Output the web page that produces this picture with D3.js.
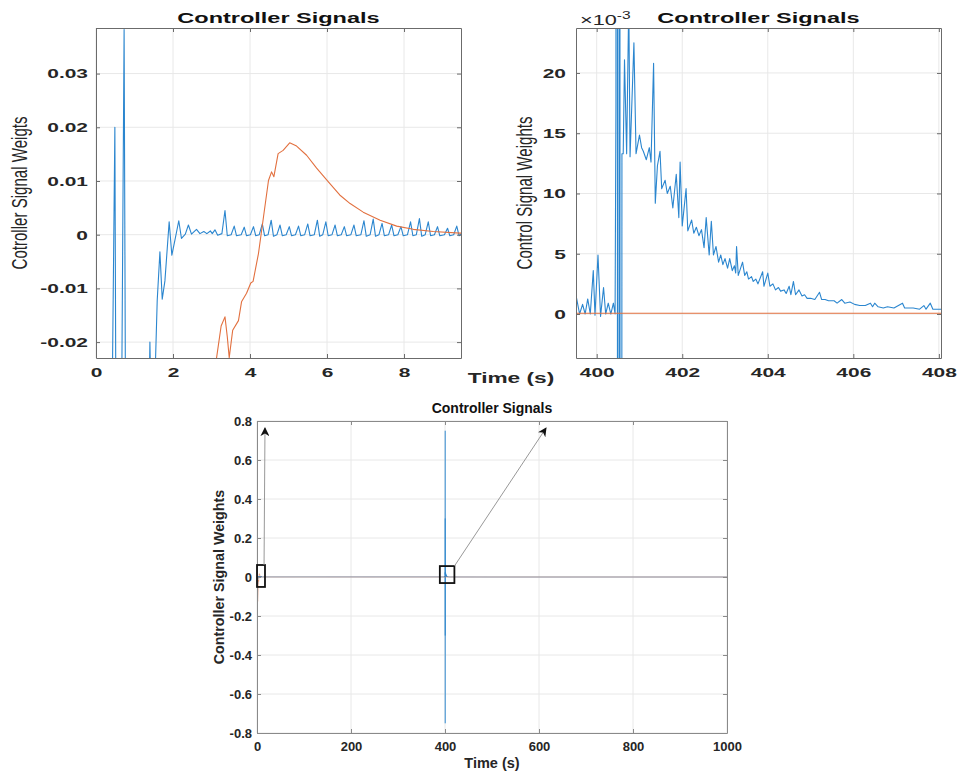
<!DOCTYPE html>
<meta charset="utf-8">
<style>
  body { margin: 0; background: #fff; }
  svg { display: block; }
</style>
<svg id="fig"></svg>
<script src="https://d3js.org/d3.v7.min.js"></script>
<script>

// blue signal, start-up transient and the small periodic ripple (t, value)
var blueEarly = [
  [0, -0.75], [0.38, -0.06], [0.49, 0.020], [0.53, -0.06], [0.64, -0.06], [0.73, 0.0382],
  [0.79, -0.08], [1.0, -0.15], [1.36, -0.04], [1.40, -0.020], [1.44, -0.035], [1.52, -0.03],
  [1.59, -0.0122], [1.66, -0.0032], [1.72, -0.012], [1.79, -0.0086], [1.90, 0.0024],
  [1.97, -0.0038], [2.05, -0.001], [2.15, 0.0026], [2.22, -0.0007], [2.32, 0.0001],
  [2.40, 0.0018], [2.48, 0.0001], [2.61, 0.0010], [2.70, 0.0002], [2.80, 0.0006],
  [2.88, 0.0002], [2.97, 0.0007], [3.02, 0.0002], [3.09, 0.0009], [3.16, -0.0001],
  [3.27, 0.0002], [3.35, 0.0045], [3.41, -0.0002],
  [3.51, 0], [3.59, 0.0016], [3.65, -0.0002],
  [3.77, 0], [3.85, 0.0014], [3.91, -0.0002],
  [4.01, 0], [4.09, 0.0015], [4.15, -0.0002],
  [4.24, 0], [4.32, 0.0020], [4.38, -0.0002],
  [4.47, 0], [4.55, 0.0027], [4.61, -0.0003],
  [4.70, 0], [4.78, 0.0018], [4.84, -0.0002],
  [4.94, 0], [5.02, 0.0015], [5.08, -0.0002],
  [5.18, 0], [5.26, 0.0016], [5.32, -0.0002],
  [5.42, 0], [5.50, 0.0020], [5.56, -0.0002],
  [5.67, 0], [5.75, 0.0027], [5.81, -0.0003],
  [5.89, 0], [5.97, 0.0024], [6.03, -0.0002],
  [6.13, 0], [6.21, 0.0018], [6.27, -0.0002],
  [6.37, 0], [6.45, 0.0015], [6.51, -0.0002],
  [6.62, 0], [6.70, 0.0018], [6.76, -0.0002],
  [6.88, 0], [6.96, 0.0026], [7.02, -0.0003],
  [7.12, 0], [7.20, 0.0029], [7.26, -0.0003],
  [7.35, 0], [7.43, 0.0021], [7.49, -0.0002],
  [7.60, 0], [7.68, 0.0018], [7.74, -0.0002],
  [7.84, 0], [7.92, 0.0015], [7.98, -0.0002],
  [8.09, 0], [8.17, 0.0024], [8.23, -0.0002],
  [8.32, 0], [8.40, 0.0030], [8.46, -0.0003],
  [8.55, 0], [8.63, 0.0024], [8.69, -0.0002],
  [8.79, 0], [8.87, 0.0015], [8.93, -0.0002],
  [9.05, 0], [9.13, 0.0012], [9.19, -0.0002],
  [9.29, 0], [9.37, 0.0016], [9.43, -0.0002], [9.50, 0.0002]
];

// blue signal between the two events
var blueMid = [
  [12, 0.0005], [100, 0.0006], [200, 0.0005], [300, 0.0006], [399.4, 0.0005]
];

// blue signal around the second event at t = 400 s
var blueLate = [
  [399.53, 0.0013], [399.60, 0], [399.67, 0.0008], [399.73, 0], [399.79, 0.00125],
  [399.85, 0], [399.92, 0.0036], [399.96, -0.0001], [400.03, 0.0049], [400.09, -0.0002],
  [400.16, 0.0022], [400.21, 0], [400.27, 0.0009], [400.33, 0], [400.39, 0.0009],
  [400.43, 0], [400.45, 0.0175], [400.47, 0.75], [400.50, -0.75], [400.53, 0.3],
  [400.56, -0.3], [400.59, 0.0133], [400.62, 0.0133], [400.65, 0.0211], [400.70, 0.0133],
  [400.75, 0.026], [400.78, 0.01305], [400.87, 0.0225], [400.92, 0.0133], [401.00, 0.01485],
  [401.05, 0.0138], [401.09, 0.0135], [401.16, 0.0128], [401.23, 0.0138], [401.27, 0.0126],
  [401.33, 0.0208], [401.37, 0.0092], [401.42, 0.0123], [401.48, 0.0135], [401.52, 0.0104],
  [401.60, 0.0111], [401.65, 0.0100], [401.72, 0.0106], [401.78, 0.0088], [401.86, 0.0116],
  [401.92, 0.0080], [401.95, 0.0126], [402.00, 0.0073], [402.09, 0.0104], [402.13, 0.0069],
  [402.22, 0.0078], [402.27, 0.0067], [402.33, 0.0072], [402.39, 0.0065], [402.45, 0.0070],
  [402.51, 0.0055], [402.56, 0.0080], [402.63, 0.0049], [402.68, 0.0077], [402.73, 0.0049],
  [402.79, 0.0056], [402.85, 0.0043], [402.90, 0.0049], [402.95, 0.0041], [403.00, 0.0046],
  [403.06, 0.0038], [403.11, 0.0046], [403.17, 0.0036], [403.22, 0.0040], [403.25, 0.0034],
  [403.27, 0.0056], [403.31, 0.0032], [403.41, 0.0043], [403.46, 0.0032], [403.51, 0.0035],
  [403.55, 0.0029], [403.62, 0.0031], [403.66, 0.0027], [403.72, 0.0029], [403.77, 0.0025],
  [403.88, 0.0035], [403.91, 0.0023], [404.00, 0.0034], [404.05, 0.0023], [404.12, 0.0025],
  [404.18, 0.0020], [404.25, 0.0022], [404.30, 0.0019], [404.38, 0.0020], [404.43, 0.0017],
  [404.50, 0.0023], [404.54, 0.0016], [404.60, 0.0027], [404.65, 0.0016], [404.73, 0.0020],
  [404.80, 0.0015], [404.86, 0.0016], [404.92, 0.0013], [405.00, 0.0013], [405.10, 0.0012],
  [405.21, 0.0018], [405.26, 0.0012], [405.34, 0.0012], [405.42, 0.0011], [405.55, 0.0011],
  [405.62, 0.0009], [405.73, 0.0012], [405.80, 0.0009], [405.92, 0.0010], [406.03, 0.0008],
  [406.15, 0.0007], [406.28, 0.0007], [406.40, 0.0009], [406.45, 0.0006], [406.50, 0.0009],
  [406.58, 0.0006], [406.70, 0.0005], [406.80, 0.0006], [406.95, 0.0005], [407.15, 0.0009],
  [407.20, 0.0005], [407.40, 0.0005], [407.55, 0.0004], [407.65, 0.0007], [407.70, 0.0004],
  [407.80, 0.0009], [407.86, 0.0004], [408.05, 0.0004], [410, 0.0003], [500, 0], [1000, 0]
];

// orange signal (t, value)
var orangeSignal = [
  [0, -0.05], [0.5, -0.1], [1.5, -0.125], [2.5, -0.06], [3.0, -0.03], [3.13, -0.023],
  [3.25, -0.017], [3.35, -0.0153], [3.41, -0.019], [3.46, -0.0229], [3.55, -0.0178],
  [3.70, -0.016], [3.78, -0.0125], [3.91, -0.0109], [4.02, -0.009], [4.08, -0.0087],
  [4.22, -0.0035], [4.35, 0.0033], [4.48, 0.0101], [4.56, 0.0117], [4.62, 0.0108],
  [4.73, 0.0151], [4.86, 0.0157], [5.03, 0.0171], [5.21, 0.0165], [5.47, 0.0148],
  [5.73, 0.0124], [6.03, 0.0099], [6.33, 0.0074], [6.60, 0.0058], [6.94, 0.0042],
  [7.38, 0.0027], [7.81, 0.0016], [8.24, 0.0010], [8.76, 0.0006], [9.45, 0.0003],
  [12, 0.0001], [1000, 0]
];

var blueSignal = blueEarly.concat(blueMid, blueLate);

// tick values
var leftXTicks = [0, 2, 4, 6, 8];
var leftYTicks = [-0.02, -0.01, 0, 0.01, 0.02, 0.03];
var rightXTicks = [400, 402, 404, 406, 408];
var rightYTicks = [0, 0.005, 0.01, 0.015, 0.02];
var mainXTicks = [0, 200, 400, 600, 800, 1000];
var mainYTicks = [-0.8, -0.6, -0.4, -0.2, 0, 0.2, 0.4, 0.6, 0.8];

// zoom boxes and arrows on the overview (data units)
var zoomBoxes = [
  { x0: 0, x1: 17, y0: -0.051, y1: 0.0615 },
  { x0: 389, x1: 420, y0: -0.031, y1: 0.056 }
];
var zoomArrows = [
  { from: [15, 0.0615], to: [17, 0.764] },
  { from: [420, 0.056], to: [615, 0.764] }
];

var W = 958, H = 776;
var FONT = "'Liberation Sans', Arial, Helvetica, sans-serif";
var BLUE = "#2b86cf", ORANGE = "#e2703f";

var svg = d3.select("#fig").attr("width", W).attr("height", H);

svg.append("defs").append("marker")
    .attr("id", "head")
    .attr("viewBox", "0 0 10 10")
    .attr("refX", 9).attr("refY", 5)
    .attr("markerWidth", 9).attr("markerHeight", 9)
    .attr("markerUnits", "userSpaceOnUse")
    .attr("orient", "auto")
  .append("path")
    .attr("d", "M0,0 L10,5 L0,10 L3,5 z")
    .attr("fill", "#111");

// widen text horizontally, the top plots use a stretched font
function stretch(sel, k) {
  sel.each(function() {
    var w = this.getComputedTextLength();
    d3.select(this).attr("textLength", w * k).attr("lengthAdjust", "spacingAndGlyphs");
  });
}

function tidy(fmt) { return function(d) { return String(+d.toFixed(fmt)); }; }

function panel(p) {
  var x = d3.scaleLinear().domain(p.xDomain).range([p.left, p.right]);
  var y = d3.scaleLinear().domain(p.yDomain).range([p.bottom, p.top]);
  var g = svg.append("g");

  g.append("rect")
      .attr("x", p.left).attr("y", p.top)
      .attr("width", p.right - p.left).attr("height", p.bottom - p.top)
      .attr("fill", "#fff");

  // grid
  g.selectAll(".gx").data(p.xTicks).join("line")
      .attr("x1", d => x(d)).attr("x2", d => x(d))
      .attr("y1", p.top).attr("y2", p.bottom)
      .attr("stroke", "#e8e8e8").attr("stroke-width", 1);
  g.selectAll(".gy").data(p.yTicks).join("line")
      .attr("y1", d => y(d)).attr("y2", d => y(d))
      .attr("x1", p.left).attr("x2", p.right)
      .attr("stroke", "#e8e8e8").attr("stroke-width", 1);

  var clipId = "clip-" + p.name;
  svg.append("clipPath").attr("id", clipId).append("rect")
      .attr("x", p.left).attr("y", p.top)
      .attr("width", p.right - p.left).attr("height", p.bottom - p.top);

  var line = d3.line().x(d => x(d[0])).y(d => y(d[1]));
  var lines = g.append("g").attr("clip-path", "url(#" + clipId + ")");
  lines.append("path").datum(blueSignal)
      .attr("d", line).attr("fill", "none")
      .attr("stroke", BLUE).attr("stroke-width", p.lw)
      .attr("stroke-opacity", p.blueOpacity)
      .attr("stroke-linejoin", "round");
  lines.append("path").datum(orangeSignal)
      .attr("d", line).attr("fill", "none")
      .attr("stroke", ORANGE).attr("stroke-width", p.lw)
      .attr("stroke-opacity", p.orangeOpacity)
      .attr("stroke-linejoin", "round");

  // axes, ticks inside on all four sides
  var ax = [
    { a: d3.axisBottom(x).tickValues(p.xTicks).tickFormat(p.xFmt).tickPadding(p.xPad), t: "translate(0," + p.bottom + ")", label: true },
    { a: d3.axisTop(x).tickValues(p.xTicks).tickFormat(""), t: "translate(0," + p.top + ")" },
    { a: d3.axisLeft(y).tickValues(p.yTicks).tickFormat(p.yFmt).tickPadding(p.yPad), t: "translate(" + p.left + ",0)", label: true },
    { a: d3.axisRight(y).tickValues(p.yTicks).tickFormat(""), t: "translate(" + p.right + ",0)" }
  ];
  ax.forEach(function(o) {
    var ag = g.append("g").attr("transform", o.t)
        .call(o.a.tickSizeInner(-4).tickSizeOuter(0));
    ag.select(".domain").attr("stroke", p.boxColor);
    ag.selectAll(".tick line").attr("stroke", p.boxColor);
    ag.attr("font-family", FONT).attr("font-size", p.tickSize).attr("font-weight", "bold");
    ag.selectAll("text").attr("fill", "#262626");
    if (o.label && p.stretch) stretch(ag.selectAll("text"), p.stretch);
  });

  // title
  var title = g.append("text")
      .attr("x", (p.left + p.right) / 2).attr("y", p.top - p.titleGap)
      .attr("text-anchor", "middle")
      .attr("font-family", FONT).attr("font-size", p.titleSize).attr("font-weight", "bold")
      .attr("fill", "#111")
      .text("Controller Signals");
  if (p.stretch) stretch(title, 1.62);

  // y label
  var yl = g.append("text")
      .attr("transform", "translate(" + p.yLabelX + "," + ((p.top + p.bottom) / 2) + ") rotate(-90)")
      .attr("text-anchor", "middle")
      .attr("font-family", p.yLabelFont).attr("font-size", p.yLabelSize)
      .attr("font-weight", p.yLabelWeight)
      .attr("fill", "#262626")
      .text(p.yLabel);
  if (p.yLabelLength) yl.attr("textLength", p.yLabelLength).attr("lengthAdjust", "spacingAndGlyphs");

  return { x: x, y: y, g: g };
}

// top left: start-up zoom
var tl = panel({
  name: "tl", left: 96, right: 461, top: 28, bottom: 358,
  xDomain: [0, 9.48], yDomain: [-0.02296, 0.03849],
  xTicks: leftXTicks, yTicks: leftYTicks,
  xFmt: d => String(d), yFmt: tidy(2),
  xPad: 9, yPad: 8, tickSize: 13.5, stretch: 1.55,
  titleSize: 14.5, titleGap: 5, boxColor: "#6b6b6b", lw: 1.1, blueOpacity: 1, orangeOpacity: 1,
  yLabel: "Cotroller Signal Weigts", yLabelX: 27, yLabelSize: 21.5,
  yLabelFont: "'Liberation Sans Narrow', 'Liberation Sans', Arial, sans-serif",
  yLabelWeight: "normal", yLabelLength: 153
});

tl.g.append("text")
    .attr("x", 461 + 50).attr("y", 383)
    .attr("text-anchor", "middle")
    .attr("font-family", FONT).attr("font-size", 14).attr("font-weight", "bold")
    .attr("fill", "#262626")
    .text("Time (s)")
    .call(stretch, 1.62);

// top right: zoom around t = 400 s
var tr = panel({
  name: "tr", left: 576, right: 941, top: 28, bottom: 358,
  xDomain: [399.516, 408.05], yDomain: [-0.00365, 0.02373],
  xTicks: rightXTicks, yTicks: rightYTicks,
  xFmt: d => String(d), yFmt: d => String(Math.round(d * 1000)),
  xPad: 9, yPad: 10, tickSize: 13.5, stretch: 1.55,
  titleSize: 14.5, titleGap: 5, boxColor: "#6b6b6b", lw: 1.1, blueOpacity: 1, orangeOpacity: 1,
  yLabel: "Control Signal Weights", yLabelX: 532, yLabelSize: 21.5,
  yLabelFont: "'Liberation Sans Narrow', 'Liberation Sans', Arial, sans-serif",
  yLabelWeight: "normal", yLabelLength: 153
});

var mult = tr.g.append("text")
    .attr("x", 580).attr("y", 25)
    .attr("font-family", FONT).attr("font-size", 14)
    .attr("fill", "#262626");
mult.append("tspan").text("\u00d710");
mult.append("tspan").attr("font-size", 10).attr("dy", -6).text("-3");
stretch(mult, 1.55);

// bottom: whole run
var bm = panel({
  name: "bm", left: 257, right: 727, top: 421, bottom: 733,
  xDomain: [0, 1000], yDomain: [-0.8, 0.8],
  xTicks: mainXTicks, yTicks: mainYTicks,
  xFmt: d => String(d), yFmt: tidy(1),
  xPad: 9, yPad: 5, tickSize: 13, stretch: 0,
  titleSize: 14, titleGap: 8, boxColor: "#8a8a8a", lw: 0.8, blueOpacity: 0.75, orangeOpacity: 0.55,
  yLabel: "Controller Signal Weights", yLabelX: 224, yLabelSize: 14.3,
  yLabelFont: FONT, yLabelWeight: "bold", yLabelLength: 0
});

bm.g.append("text")
    .attr("x", (257 + 727) / 2).attr("y", 768)
    .attr("text-anchor", "middle")
    .attr("font-family", FONT).attr("font-size", 14.5).attr("font-weight", "bold")
    .attr("fill", "#262626")
    .text("Time (s)");

bm.g.selectAll(".zbox").data(zoomBoxes).join("rect")
    .attr("x", d => bm.x(d.x0)).attr("y", d => bm.y(d.y1))
    .attr("width", d => bm.x(d.x1) - bm.x(d.x0))
    .attr("height", d => bm.y(d.y0) - bm.y(d.y1))
    .attr("fill", "none").attr("stroke", "#111").attr("stroke-width", 1.8);

bm.g.selectAll(".zarrow").data(zoomArrows).join("line")
    .attr("x1", d => bm.x(d.from[0])).attr("y1", d => bm.y(d.from[1]))
    .attr("x2", d => bm.x(d.to[0])).attr("y2", d => bm.y(d.to[1]))
    .attr("stroke", "#8c8c8c").attr("stroke-width", 0.9)
    .attr("marker-end", "url(#head)");

</script>
